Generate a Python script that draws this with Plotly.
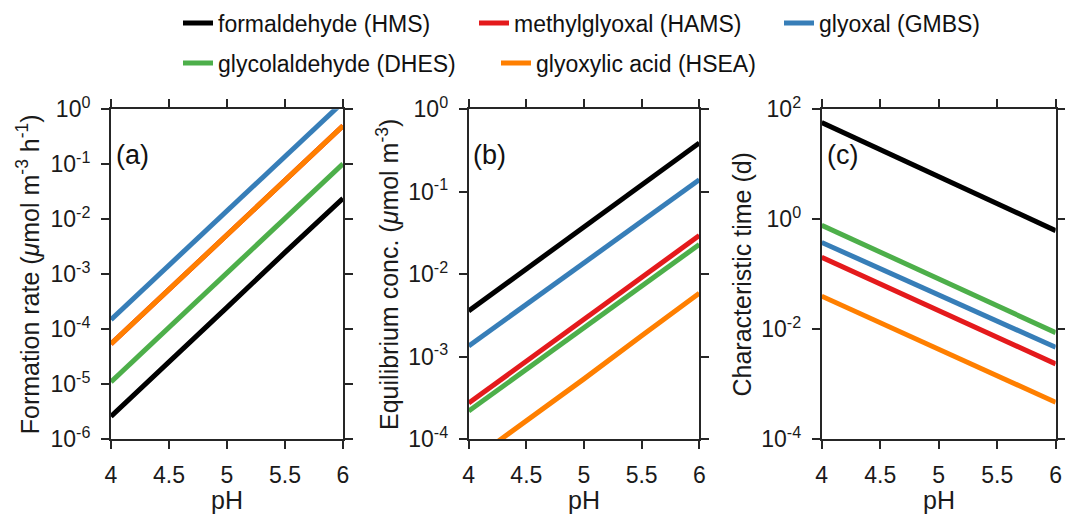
import plotly.graph_objects as go

# ---------------- data ----------------
ph = [4.0, 4.5, 5.0, 5.5, 6.0]

names = ["formaldehyde (HMS)", "methylglyoxal (HAMS)", "glyoxal (GMBS)",
         "glycolaldehyde (DHES)", "glyoxylic acid (HSEA)"]
colors = ["#000000", "#e41a1c", "#377eb8", "#4daf4a", "#ff7f00"]

# (a) formation rate (umol m-3 h-1)
rate_hms = [2.6e-6, 2.5e-5, 2.5e-4, 2.5e-3, 2.4e-2]
rate_hams = [5.4e-5, 5.2e-4, 5.2e-3, 5.1e-2, 0.50]
rate_gmbs = [1.5e-4, 1.45e-3, 1.4e-2, 0.14, 1.35]
rate_dhes = [1.1e-5, 1.07e-4, 1.06e-3, 1.05e-2, 0.102]
rate_hsea = [5.4e-5, 5.2e-4, 5.2e-3, 5.1e-2, 0.50]

# (b) equilibrium concentration (umol m-3)
conc_hms = [3.6e-3, 1.15e-2, 3.7e-2, 0.12, 0.39]
conc_hams = [2.75e-4, 8.8e-4, 2.85e-3, 9.2e-3, 2.95e-2]
conc_gmbs = [1.35e-3, 4.3e-3, 1.37e-2, 4.4e-2, 0.14]
conc_dhes = [2.2e-4, 7.0e-4, 2.2e-3, 7.1e-3, 2.3e-2]
conc_hsea = [5.2e-5, 1.65e-4, 5.4e-4, 1.8e-3, 5.9e-3]

# (c) characteristic time (d)
time_hms = [57.5, 18.6, 5.96, 1.9, 0.62]
time_hams = [0.204, 0.066, 0.0215, 0.007, 0.00235]
time_gmbs = [0.38, 0.125, 0.042, 0.014, 0.0047]
time_dhes = [0.78, 0.25, 0.083, 0.027, 0.0087]
time_hsea = [0.040, 0.0131, 0.0043, 0.00141, 0.00047]

x_ticks = [4, 4.5, 5, 5.5, 6]
x_ticktext = ["4", "4.5", "5", "5.5", "6"]
x_title = "pH"

a_exps = [0, -1, -2, -3, -4, -5, -6]
b_exps = [0, -1, -2, -3, -4]
c_exps = [2, 0, -2, -4]

panel_labels = ["(a)", "(b)", "(c)"]
y_titles = ["Formation rate (<i>\u03bc</i>mol m<sup>-3</sup> h<sup>-1</sup>)",
            "Equilibrium conc. (<i>\u03bc</i>mol m<sup>-3</sup>)",
            "Characteristic time (d)"]

# ---------------- figure ----------------
FONT = "Liberation Sans, Arial, sans-serif"
AX = "#262626"
TXT = "#1a1a1a"
W, H = 1065, 517

fig = go.Figure()

panels = [
    ([rate_hms, rate_hams, rate_gmbs, rate_dhes, rate_hsea], "x", "y"),
    ([conc_hms, conc_hams, conc_gmbs, conc_dhes, conc_hsea], "x2", "y2"),
    ([time_hms, time_hams, time_gmbs, time_dhes, time_hsea], "x3", "y3"),
]
legend_of = ["legend", "legend", "legend", "legend2", "legend2"]
legend_w = [251, 260, 200, 273, 230]

for p, (series, xa, ya) in enumerate(panels):
    for i, vals in enumerate(series):
        fig.add_trace(go.Scatter(
            x=ph, y=vals, mode="lines", name=names[i],
            line=dict(color=colors[i], width=5),
            xaxis=xa, yaxis=ya,
            legendgroup=names[i], showlegend=(p == 0),
            legend=legend_of[i], legendwidth=legend_w[i],
        ))

# domains in pixels
xdom = [(111, 343), (468.7, 699.3), (821.7, 1055.7)]
ydom = (439.3, 109.3)


def pxx(v):
    return v / W


def pxy(v):
    return (H - v) / H


def exp_text(e):
    return "10<sup>%s</sup>" % ("-%d" % -e if e < 0 else "%d" % e)


yranges = [[-6, 0], [-4, 0], [-4, 2]]
yexps = [a_exps, b_exps, c_exps]
ystandoff = [4, 2, 2]

common_axis = dict(
    showline=True, linecolor=AX, linewidth=2, mirror="ticks",
    ticks="outside", ticklen=8, tickwidth=2, tickcolor=AX,
    showgrid=False, zeroline=False, automargin=False,
    tickfont=dict(family=FONT, size=23, color=TXT),
)

for p in range(3):
    sx = "" if p == 0 else str(p + 1)
    fig.layout["xaxis" + sx] = dict(
        common_axis,
        domain=[pxx(xdom[p][0]), pxx(xdom[p][1])],
        range=[4, 6], tickvals=x_ticks, ticktext=x_ticktext,
        anchor="y" + sx, ticklabelstandoff=6,
    )
    fig.layout["yaxis" + sx] = dict(
        common_axis,
        domain=[pxy(ydom[0]), pxy(ydom[1])],
        type="log", range=yranges[p],
        tickvals=[10.0 ** e for e in yexps[p]],
        ticktext=[exp_text(e) for e in yexps[p]],
        anchor="x" + sx, ticklabelstandoff=6,
        title=dict(text=y_titles[p], font=dict(family=FONT, size=25, color=TXT),
                   standoff=ystandoff[p]),
    )
    # x-axis title
    fig.add_annotation(
        text=x_title, xref="x%s domain" % sx, yref="paper",
        x=0.5, y=pxy(516), xanchor="center", yanchor="bottom", showarrow=False,
        font=dict(family=FONT, size=25, color=TXT),
    )
    fig.add_annotation(
        text=panel_labels[p], xref="x%s domain" % sx, yref="y%s domain" % sx,
        x=0.012, y=0.861, xanchor="left", yanchor="middle", showarrow=False,
        font=dict(family=FONT, size=27, color="#111"),
    )

fig.update_layout(
    width=W, height=H,
    margin=dict(l=0, r=0, t=0, b=0),
    paper_bgcolor="white", plot_bgcolor="white",
    font=dict(family=FONT, size=22, color=TXT),
    legend=dict(orientation="h", x=pxx(178), y=pxy(23), xanchor="left", yanchor="middle",
                bgcolor="rgba(0,0,0,0)", font=dict(family=FONT, size=23, color="#111"),
                itemwidth=30),
    legend2=dict(orientation="h", x=pxx(178), y=pxy(63), xanchor="left", yanchor="middle",
                 bgcolor="rgba(0,0,0,0)", font=dict(family=FONT, size=23, color="#111"),
                 itemwidth=30),
)

fig.write_html("out.html")
